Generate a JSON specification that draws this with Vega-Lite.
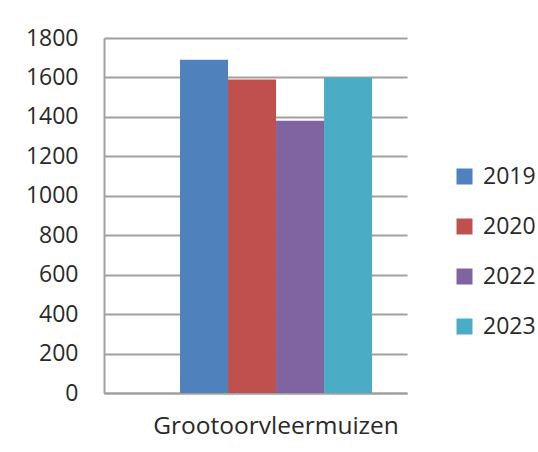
{
  "$schema": "https://vega.github.io/schema/vega-lite/v6.json",
  "autosize": "none",
  "width": 303,
  "height": 355,
  "padding": {"left": 104, "top": 38, "right": 131, "bottom": 59},
  "background": "white",
  "data": {"values": [
    {"soort": "Grootoorvleermuizen", "jaar": "2019", "aantal": 1690},
    {"soort": "Grootoorvleermuizen", "jaar": "2020", "aantal": 1590},
    {"soort": "Grootoorvleermuizen", "jaar": "2022", "aantal": 1380},
    {"soort": "Grootoorvleermuizen", "jaar": "2023", "aantal": 1600}
  ]},
  "mark": {"type": "bar"},
  "encoding": {
    "x": {"field": "soort", "type": "nominal", "title": null,
      "scale": {"paddingInner": 0, "paddingOuter": 0.289, "align": 0.685},
      "axis": {"labelAngle": 0, "ticks": false, "labelPadding": 21, "labelFontSize": 24.5, "labelLimit": 0, "labelColor": "#2a2a2a", "labelFont": "Open Sans", "domainColor": "#a0a0a0", "domainWidth": 2, "grid": false}},
    "xOffset": {"field": "jaar", "type": "nominal", "scale": {"paddingInner": 0, "paddingOuter": 0}},
    "y": {"field": "aantal", "type": "quantitative", "title": null,
      "scale": {"domain": [0, 1800], "nice": false},
      "axis": {"values": [0,200,400,600,800,1000,1200,1400,1600,1800], "format": "d", "ticks": false, "labelPadding": 26, "labelFontSize": 23, "labelColor": "#2a2a2a", "labelFont": "Open Sans", "domainColor": "#a0a0a0", "domainWidth": 2, "gridColor": "#a0a0a0", "gridWidth": 2, "gridOpacity": 1}},
    "color": {"field": "jaar", "type": "nominal", "title": null,
      "scale": {"domain": ["2019", "2020", "2022", "2023"], "range": ["#4f81bd", "#c0504d", "#8064a2", "#4bacc6"]},
      "legend": {"orient": "none", "legendX": 349, "legendY": 127, "symbolType": "square", "symbolSize": 256, "symbolStrokeWidth": 0, "labelFontSize": 23, "labelFont": "Open Sans", "labelColor": "#2a2a2a", "rowPadding": 26, "symbolOffset": 0, "labelOffset": 7}}
  },
  "config": {"view": {"stroke": null}}
}
